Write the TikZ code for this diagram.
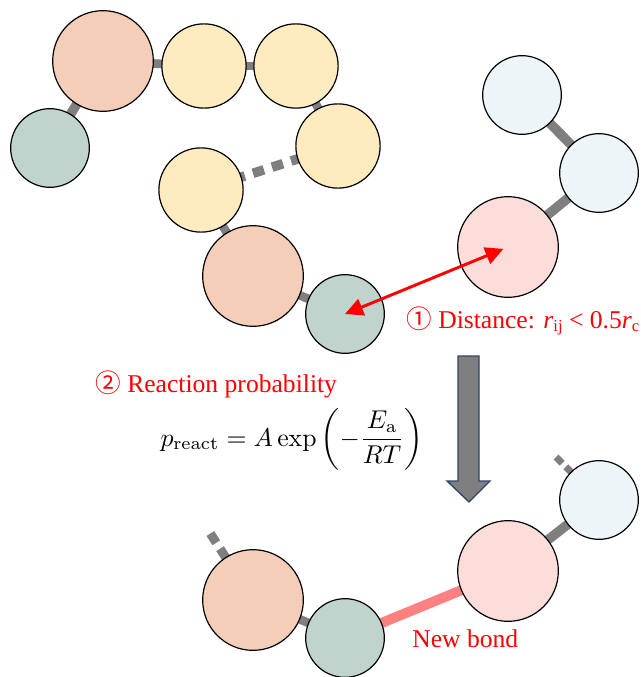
\documentclass[tikz,border=0pt]{standalone}
\usepackage[no-math]{fontspec}
\usepackage{amsmath}
\newfontfamily\timesfont{Liberation Serif}
\newfontfamily\cjk{Noto Sans CJK SC}
\usetikzlibrary{arrows.meta,backgrounds}
\definecolor{beadorange}{HTML}{F5CEB9}
\definecolor{beadyellow}{HTML}{FEEBC0}
\definecolor{beadteal}{HTML}{C1D3CD}
\definecolor{beadice}{HTML}{EDF5F9}
\definecolor{beadpink}{HTML}{FDDDD9}
\definecolor{bondgray}{HTML}{7F7F7F}
\definecolor{newbondred}{HTML}{FF8080}
\definecolor{bigarrowedge}{HTML}{2F4468}
\tikzset{
  bead/.style       = {circle, draw=black, line width=0.9pt, inner sep=0pt},
  bigbead/.style    = {bead, minimum size=75.5pt},
  midbead/.style    = {bead, minimum size=63.2pt, fill=beadyellow},
  smallbead/.style  = {bead, minimum size=59pt},
  bond/.style       = {draw=bondgray, line width=6.5pt},
  thickbond/.style  = {draw=bondgray, line width=7.2pt},
  dashbond/.style   = {draw=bondgray, line width=7.2pt, dash pattern=on 8.6pt off 6.4pt, dash phase=1.65pt},
  stubbond/.style   = {draw=bondgray, line width=6.8pt, dash pattern=on 8.25pt off 5.25pt, dash phase=3pt},
  stubthin/.style   = {draw=bondgray, line width=5.2pt, dash pattern=on 6.75pt off 3.75pt, dash phase=3pt},
  newbond/.style    = {draw=newbondred, line width=7.5pt},
  distarrow/.style  = {{Triangle[length=13.5pt,width=13pt]}-{Triangle[length=13.5pt,width=13pt]}, draw=red, fill=red, line width=2.2pt},
  bigarrow/.style   = {draw=bigarrowedge, fill=bondgray, line width=1pt, line join=miter},
  redlbl/.style     = {font=\fontsize{19.2}{23}\selectfont\timesfont, text=red, anchor=base west, inner sep=0pt},
  formula/.style    = {anchor=base west, inner sep=0pt, scale=1.93},
}

\begin{document}
\begin{tikzpicture}[x=0.75pt,y=-0.75pt]
  \useasboundingbox (0,0) rectangle (640,677);

  % beads, top chain and right chain
  \foreach \n/\s/\c/\x/\y in {%
    oa/bigbead/beadorange/103/61, ta/smallbead/beadteal/50/148,
    ya/midbead/beadyellow/204/66, yb/midbead/beadyellow/296/66,
    yc/midbead/beadyellow/338/146, yd/midbead/beadyellow/201/190,
    ob/bigbead/beadorange/253/276, tb/smallbead/beadteal/345/314,
    ia/smallbead/beadice/522/95, ib/smallbead/beadice/599/173,
    pa/bigbead/beadpink/508/247,
    oc/bigbead/beadorange/253/600, tc/smallbead/beadteal/345/638,
    pb/bigbead/beadpink/508/571, ic/smallbead/beadice/599/500}
  {
    \node[\s, fill=\c] (\n) at (\x,\y) {};
  }
  \coordinate (stuba) at (210,533);
  \coordinate (stubb) at (556,457);

  \begin{pgfonlayer}{background}
    \foreach \a/\b in {oa/ya, ya/yb, yb/yc, yd/ob, ob/tb, oc/tc} {
      \draw[bond] (\a.center) -- (\b.center);
    }
    \foreach \a/\b in {oa/ta, ia/ib, ib/pa, pb/ic} {
      \draw[thickbond] (\a.center) -- (\b.center);
    }
    \draw[dashbond] (yc.center) -- (yd.center);
    \draw[stubbond] (oc.center) -- (stuba);
    \draw[stubthin] (ic.center) -- (stubb);
    \draw[newbond] (tc.center) -- (pb.center);
  \end{pgfonlayer}

  \draw[distarrow, shorten >=3.7pt] (tb.center) -- (pa.center);
  \draw[bigarrow] (458,356) -- (479,356) -- (479,481) -- (490,481) -- (469,502)
    -- (447,481) -- (458,481) -- cycle;

  \node[redlbl] (distlbl) at (406,328) {{\cjk ①} Distance: {\itshape r}\raisebox{-2.5pt}{\fontsize{12.5}{15}\selectfont ij} < 0.5{\itshape r}\raisebox{-2.5pt}{\fontsize{12.5}{15}\selectfont c}};
  \node[redlbl] (problbl) at (95,392) {{\cjk ②} Reaction probability};
  \node[formula] (preact) at (160,446) {$\displaystyle p_{\mathrm{react}} = A\exp\,\biggl(-\frac{E_{\mathrm{a}}}{RT}\biggr)$};
  \node[redlbl] (newlbl) at (412,647) {New bond};
\end{tikzpicture}
\end{document}
